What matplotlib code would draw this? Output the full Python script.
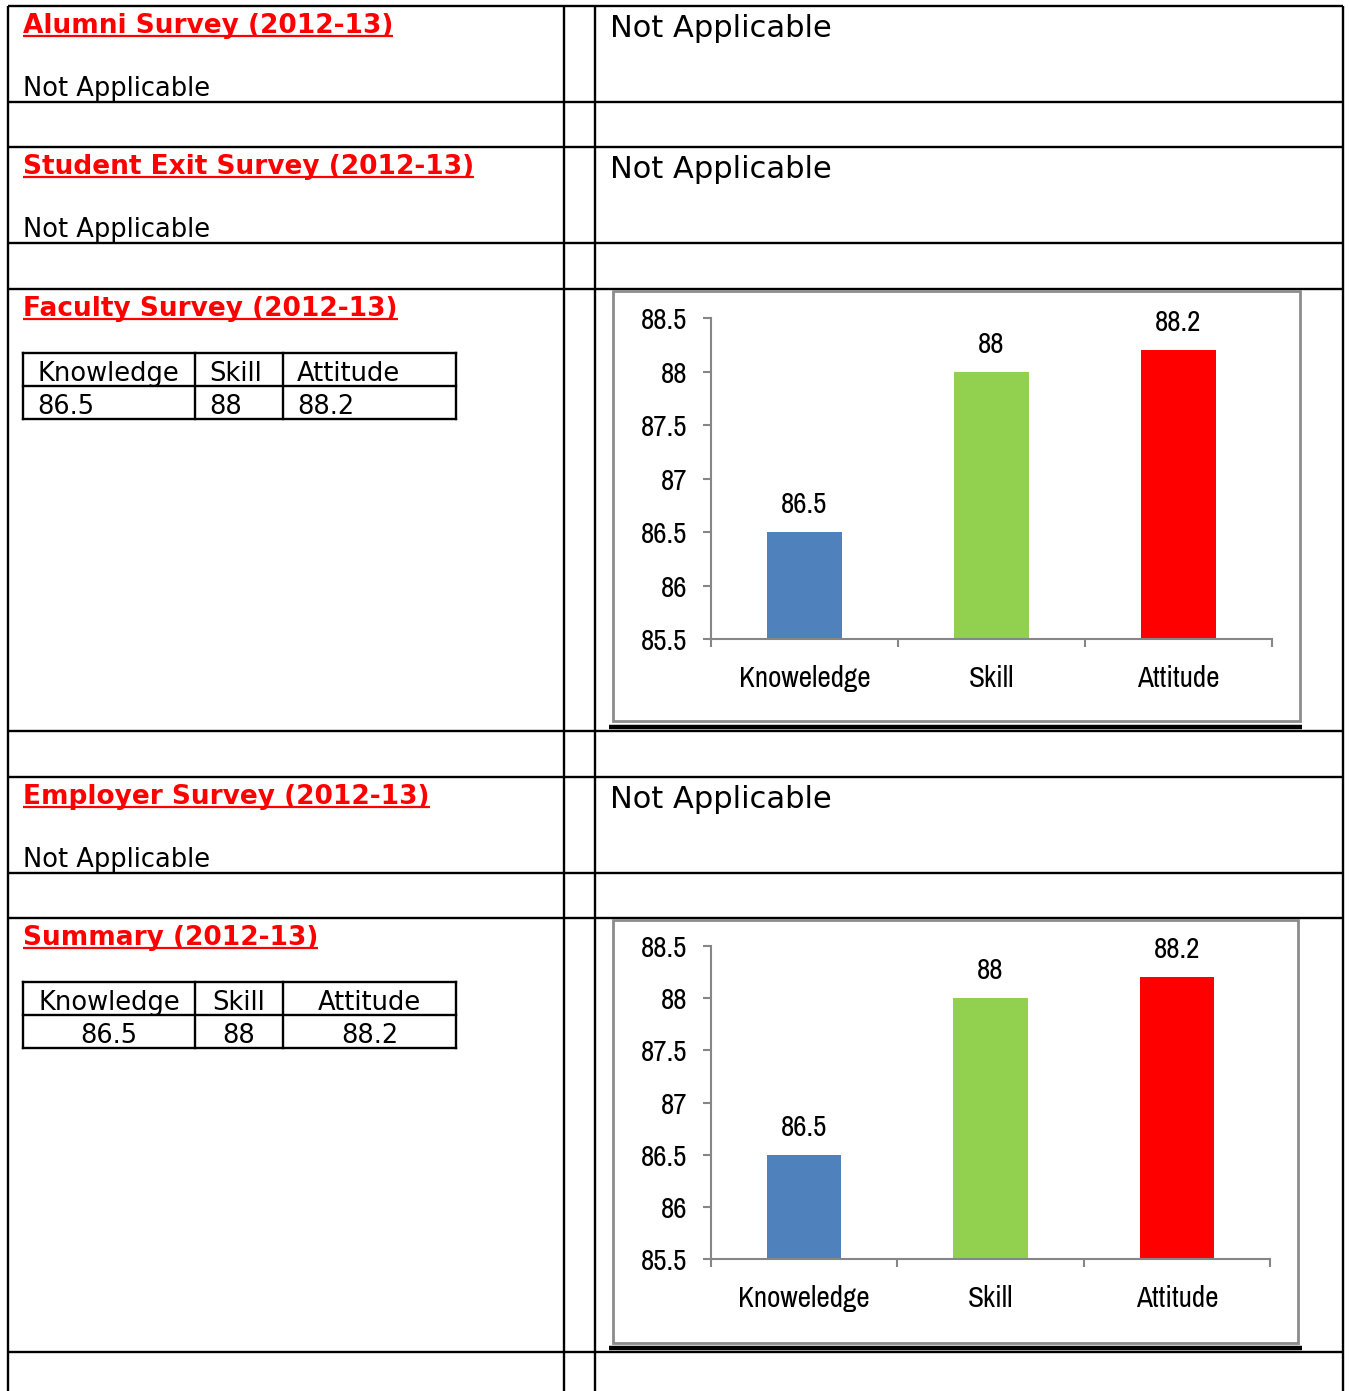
import matplotlib
matplotlib.use("Agg")
import matplotlib.pyplot as plt
import numpy as np

# Page size in pixels
W, H = 1350, 1391

# Section headings and right-hand notes
headings = ["Alumni Survey (2012-13)", "Student Exit Survey (2012-13)",
            "Faculty Survey (2012-13)", "Employer Survey (2012-13)",
            "Summary (2012-13)"]
na_text = "Not Applicable"

# Survey scores
table_cols = ["Knowledge", "Skill", "Attitude"]
chart_cats = ["Knoweledge", "Skill", "Attitude"]
scores = [86.5, 88, 88.2]
score_labels = ["86.5", "88", "88.2"]
bar_colors = ["#4F81BD", "#92D050", "#FF0000"]
y_ticks = [85.5, 86, 86.5, 87, 87.5, 88, 88.5]
y_tick_labels = ["85.5", "86", "86.5", "87", "87.5", "88", "88.5"]

# table grid (pixels)
row_lines = [6, 102, 147, 243, 289, 731, 777, 873, 918, 1352]
col_lines = [8, 564, 595, 1343]
section_tops = [6, 147, 289, 777, 918]

doc_font = ["DejaVu Sans"]
chart_font = ["Archivo Narrow", "DejaVu Sans"]

fig = plt.figure(figsize=(W / 100, H / 100), dpi=100, facecolor="white")
bg = fig.add_axes([0, 0, 1, 1])
bg.set_xlim(0, W)
bg.set_ylim(H, 0)
bg.axis("off")

lw = 1.7
for y in row_lines:
    bg.plot([col_lines[0], col_lines[-1]], [y, y], color="black", lw=lw, solid_capstyle="butt")
for x in col_lines:
    bg.plot([x, x], [row_lines[0], H], color="black", lw=lw, solid_capstyle="butt")

# headings (red, bold, underlined)
head_texts = []
for top, h in zip(section_tops, headings):
    t = bg.text(23, top + 27, h, color="#FF0000", fontsize=19, fontweight="bold",
                family=doc_font, va="baseline", ha="left")
    head_texts.append((t, top + 30))

# "Not Applicable" rows
for i in [0, 1, 3]:
    top = section_tops[i]
    bg.text(23, top + 90, na_text, fontsize=18.5, family=doc_font, va="baseline")
    bg.text(610, top + 31, na_text, fontsize=22, family=doc_font, va="baseline")


def draw_table(top, centered):
    xs = [23, 195, 283, 456]
    ys = [top, top + 33, top + 66]
    for y in ys:
        bg.plot([xs[0], xs[-1]], [y, y], color="black", lw=1.7, solid_capstyle="projecting")
    for x in xs:
        bg.plot([x, x], [ys[0], ys[-1]], color="black", lw=1.7, solid_capstyle="projecting")
    rows = [table_cols, score_labels]
    for r, row in enumerate(rows):
        for c, s in enumerate(row):
            if centered:
                bg.text((xs[c] + xs[c + 1]) / 2, ys[r] + 28, s, fontsize=18.5,
                        family=doc_font, ha="center", va="baseline")
            else:
                bg.text(xs[c] + 14, ys[r] + 28, s, fontsize=18.5,
                        family=doc_font, ha="left", va="baseline")


draw_table(353, False)
draw_table(982, True)


def px_box(x0, y0, x1, y1):
    return [x0 / W, 1 - y1 / H, (x1 - x0) / W, (y1 - y0) / H]


def draw_chart(frame, axes_box, black_y):
    fx0, fy0, fx1, fy1 = frame
    bg.add_patch(plt.Rectangle((fx0, fy0), fx1 - fx0, fy1 - fy0, fill=False,
                               edgecolor="#8C8C8C", lw=2.0, zorder=3))
    bg.plot([609, 1302], [black_y, black_y], color="black", lw=3.2, solid_capstyle="butt")

    ax = fig.add_axes(px_box(*axes_box))
    x = np.arange(len(scores))
    bars = ax.bar(x, [s - y_ticks[0] for s in scores], bottom=y_ticks[0],
                  width=0.4, color=bar_colors, zorder=2)
    ax.bar_label(bars, labels=score_labels, padding=10, fontsize=21,
                 family=chart_font)
    ax.set_xlim(-0.5, 2.5)
    ax.set_ylim(y_ticks[0], y_ticks[-1])
    ax.set_yticks(y_ticks)
    ax.set_yticklabels(y_tick_labels, family=chart_font, fontsize=21)
    ax.set_xticks(x)
    ax.set_xticklabels(chart_cats, family=chart_font, fontsize=21)
    ax.set_xticks([-0.5, 0.5, 1.5, 2.5], minor=True)
    ax.tick_params(axis="x", which="major", length=0, pad=19)
    ax.tick_params(axis="x", which="minor", length=6, width=1.5, color="#868686")
    ax.tick_params(axis="y", length=6, width=1.5, color="#868686", pad=11)
    for side in ["top", "right"]:
        ax.spines[side].set_visible(False)
    for side in ["left", "bottom"]:
        ax.spines[side].set_color("#868686")
        ax.spines[side].set_linewidth(1.5)
    ax.patch.set_alpha(0)


draw_chart((613, 291, 1300, 721), (711, 318, 1272, 639), 727)
draw_chart((613, 920, 1298, 1343), (711, 946, 1270, 1259), 1348)

# underline the headings
fig.canvas.draw()
for t, uy in head_texts:
    bb = t.get_window_extent()
    bg.plot([bb.x0, bb.x1], [uy, uy], color="#FF0000", lw=1.6, solid_capstyle="butt")

fig.savefig("out.png", dpi=100, facecolor="white")
